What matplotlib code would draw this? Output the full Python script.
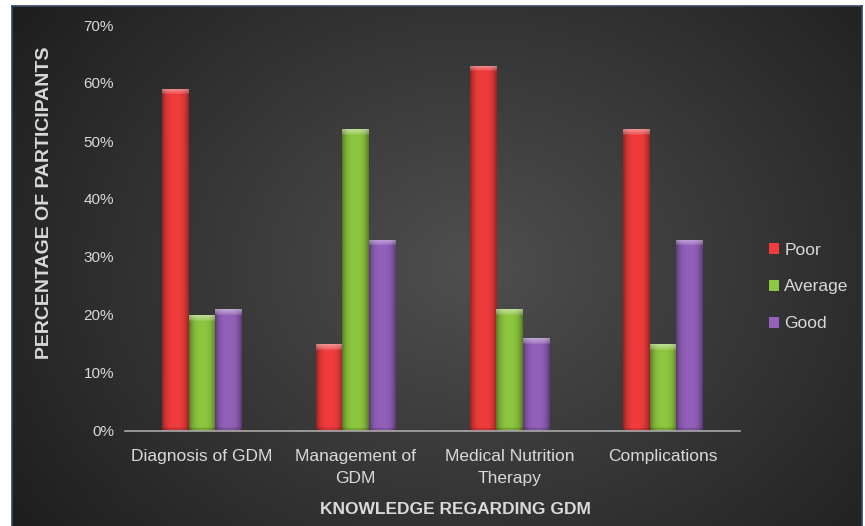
import numpy as np
import matplotlib.pyplot as plt
from matplotlib.colors import to_rgb
from matplotlib.ticker import PercentFormatter

plt.rcParams["font.family"] = ["Liberation Sans", "DejaVu Sans"]

# ── данные ────────────────────────────────────────────────────────────
categories = ["Diagnosis of GDM", "Management of\nGDM",
              "Medical Nutrition\nTherapy", "Complications"]
series = ["Poor", "Average", "Good"]
poor = [0.59, 0.15, 0.63, 0.52]
average = [0.20, 0.52, 0.21, 0.15]
good = [0.21, 0.33, 0.16, 0.33]
colors = ["#F03C3C", "#8DC63F", "#9360BA"]

W, H = 865, 526
fig = plt.figure(figsize=(W / 100, H / 100), dpi=100)
fig.patch.set_facecolor("white")

# ── фон: радиальный градиент ──────────────────────────────────────────
bg = fig.add_axes([12 / W, 0, 850 / W, 520 / H])
yy, xx = np.mgrid[0:520, 0:850]
d = np.sqrt(((xx - 460) / 520) ** 2 + ((yy - 260) / 420) ** 2)
lum = np.clip(0.31 - 0.18 * d, 0.12, 0.31)
bg.imshow(np.dstack([lum, lum, lum]), aspect="auto", extent=[0, 1, 0, 1],
          interpolation="bilinear")
bg.set_xticks([]); bg.set_yticks([])
for s in bg.spines.values():
    s.set_color("#34456a"); s.set_linewidth(1.2)
bg.spines["bottom"].set_visible(False)

# ── основная область ──────────────────────────────────────────────────
ax = fig.add_axes([125 / W, 95 / H, 615 / W, 406 / H])
ax.patch.set_alpha(0)
x = np.arange(len(categories))
bw = 0.172


def shaded(rgb, h):
    # горизонтальный профиль: тёмные края, светлый центр + фаска сверху
    nx, ny = 40, 600
    t = np.linspace(-1, 1, nx)
    prof = 1.0 - 0.38 * np.abs(t) ** 3.0
    img = np.ones((ny, nx, 3)) * np.array(rgb)[None, None, :] * prof[None, :, None]
    bevel = min(0.010 / max(h, 1e-6), 0.5)
    nb = max(int(ny * bevel), 1)
    top = np.linspace(0.45, 0.15, nb)
    img[:nb] = img[:nb] + (1 - img[:nb]) * top[:, None, None]
    # тёмная полоска у основания
    nbot = max(int(ny * min(0.006 / max(h, 1e-6), 0.3)), 1)
    img[-nbot:] = img[-nbot:] * 0.85
    return np.clip(img, 0, 1)


for k, (vals, col, name) in enumerate(zip([poor, average, good], colors, series)):
    pos = x + (k - 1) * bw
    bars = ax.bar(pos, vals, bw, color=col, label=name, linewidth=0, zorder=2)
    for b, v in zip(bars, vals):
        im = ax.imshow(shaded(to_rgb(col), v), aspect="auto",
                       extent=[b.get_x(), b.get_x() + bw, 0, v],
                       interpolation="bilinear", zorder=3)
        im.set_clip_path(b)

ax.set_xlim(-0.5, 3.5)
ax.set_ylim(0, 0.70)
ax.set_yticks(np.arange(0, 0.71, 0.1))
ax.yaxis.set_major_formatter(PercentFormatter(1.0, decimals=0))
ax.set_xticks(x)
ax.set_xticklabels(categories, linespacing=1.55)
ax.tick_params(axis="y", length=0, pad=8, labelsize=11, labelcolor="#d9d9d9")
ax.tick_params(axis="x", length=0, pad=13, labelsize=12.5, labelcolor="#d9d9d9")
for s in ["top", "right", "left"]:
    ax.spines[s].set_visible(False)
ax.spines["bottom"].set_color("#a8a8a8")
ax.spines["bottom"].set_linewidth(1.2)
ax.spines["bottom"].set_zorder(4)

fig.text(455 / W, 1 - 509 / H, "KNOWLEDGE REGARDING GDM", ha="center", va="center",
         fontsize=12.5, fontweight="bold", color="#d9d9d9")
fig.text(45 / W, 1 - 203 / H, "PERCENTAGE OF PARTICIPANTS", ha="center", va="center",
         rotation=90, fontsize=14, fontweight="bold", color="#d9d9d9")

leg = ax.legend(loc="center left", bbox_to_anchor=(753 / W, 1 - 287 / H),
                bbox_transform=fig.transFigure, frameon=False, fontsize=12.5,
                handlelength=0.6, handleheight=0.6, handletextpad=0.3,
                labelspacing=1.25, labelcolor="#d9d9d9")

fig.savefig("out.png", dpi=100)
